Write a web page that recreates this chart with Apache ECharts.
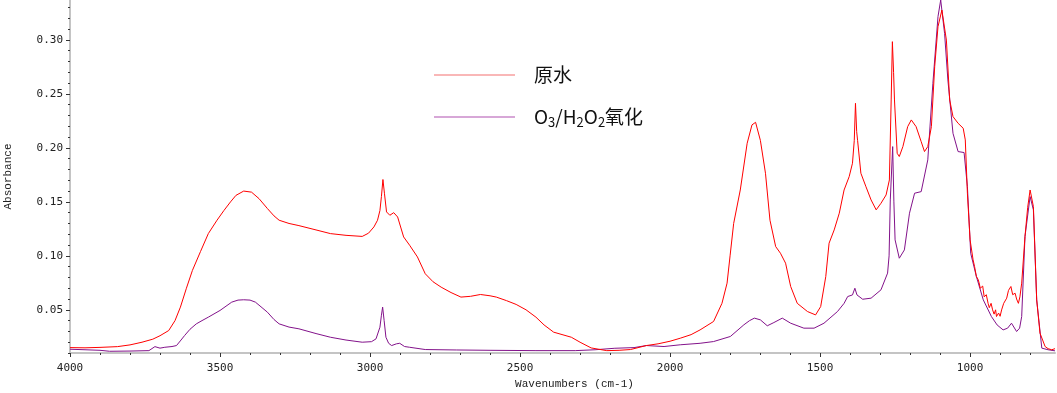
<!DOCTYPE html>
<html>
<head>
<meta charset="utf-8">
<script src="https://cdn.jsdelivr.net/npm/echarts@6/dist/echarts.min.js"></script>
<style>html,body{margin:0;padding:0;background:#fff}#c{width:1057px;height:393px}</style>
</head>
<body>
<div id="c"></div>
<script>
// Wavenumber (cm-1) and absorbance
const rawWn = [4000,3950,3900,3842,3800,3760,3724,3700,3671,3650,3632,3612,3592,3565,3539,3510,3487,3465,3447,3421,3395,3370,3342,3320,3303,3270,3237,3180,3132,3080,3026,3005,2987,2975,2967,2962,2957,2952,2945,2934,2921,2908,2888,2868,2842,2816,2790,2763,2730,2697,2665,2632,2600,2579,2545,2513,2480,2447,2420,2388,2329,2300,2263,2211,2170,2132,2079,2040,2000,1966,1930,1900,1855,1827,1810,1800,1788,1766,1743,1727,1715,1699,1682,1667,1648,1632,1615,1598,1576,1542,1515,1498,1481,1470,1453,1436,1420,1403,1392,1386,1382,1378,1375,1364,1347,1330,1313,1297,1280,1269,1263,1259,1255,1252,1243,1236,1224,1208,1196,1180,1163,1152,1141,1129,1118,1107,1094,1079,1068,1057,1040,1023,1016,1009,1000,990,985,979,973,970,966,962,958,953,946,940,936,930,925,920,915,912,905,900,895,888,878,872,864,858,850,845,839,834,828,817,808,800,789,778,767,750,740,728,717];
const rawAbs = [0.0150,0.0148,0.0152,0.0159,0.0175,0.0200,0.0228,0.0260,0.0308,0.040,0.0525,0.070,0.0865,0.104,0.1206,0.133,0.142,0.150,0.156,0.160,0.159,0.153,0.1438,0.137,0.133,0.130,0.128,0.124,0.1206,0.119,0.118,0.121,0.1268,0.133,0.142,0.155,0.1707,0.158,0.1407,0.1376,0.140,0.136,0.1175,0.1098,0.099,0.0834,0.076,0.071,0.066,0.0618,0.0625,0.0642,0.063,0.0618,0.0585,0.055,0.050,0.0432,0.036,0.0293,0.0246,0.020,0.0147,0.0122,0.0125,0.0132,0.0169,0.0185,0.0209,0.0237,0.027,0.0314,0.0392,0.056,0.0747,0.100,0.130,0.161,0.2043,0.2213,0.2237,0.207,0.1765,0.133,0.1086,0.1024,0.0932,0.0716,0.056,0.0484,0.0453,0.053,0.0808,0.1117,0.124,0.1395,0.161,0.1734,0.1858,0.207,0.2413,0.215,0.207,0.1765,0.164,0.1518,0.1426,0.1487,0.1564,0.1703,0.2444,0.2984,0.270,0.2444,0.195,0.192,0.2012,0.2197,0.2259,0.2197,0.2058,0.1966,0.2012,0.2197,0.2753,0.3123,0.3277,0.2999,0.2444,0.229,0.2228,0.2182,0.2074,0.158,0.1148,0.0963,0.090,0.0808,0.078,0.075,0.070,0.0685,0.072,0.062,0.064,0.056,0.052,0.056,0.050,0.046,0.050,0.0438,0.047,0.044,0.0499,0.056,0.0608,0.068,0.0716,0.064,0.0654,0.060,0.056,0.062,0.0747,0.1179,0.145,0.161,0.1456,0.0592,0.0284,0.016,0.014,0.013,0.014];

const oxWn = [4000,3950,3900,3868,3800,3737,3717,3700,3684,3660,3645,3630,3618,3600,3579,3560,3539,3500,3461,3440,3421,3400,3382,3360,3342,3320,3303,3270,3237,3180,3132,3080,3026,2995,2980,2967,2962,2958,2953,2947,2938,2928,2912,2901,2885,2868,2816,2711,2600,2447,2316,2250,2184,2120,2079,2020,1966,1900,1855,1799,1754,1735,1719,1699,1676,1654,1626,1598,1554,1520,1487,1442,1420,1408,1392,1384,1377,1358,1330,1297,1275,1270,1266,1258,1254,1250,1236,1219,1202,1185,1163,1141,1124,1107,1098,1085,1074,1057,1040,1020,1009,998,979,956,929,910,890,875,862,845,835,828,817,800,789,778,761,740,717];
const oxAbs = [0.0135,0.0130,0.0125,0.0116,0.0118,0.0122,0.0159,0.0145,0.0153,0.0160,0.0169,0.022,0.0262,0.032,0.037,0.040,0.0432,0.0494,0.0571,0.059,0.0593,0.059,0.0571,0.052,0.0478,0.041,0.037,0.034,0.0324,0.028,0.0246,0.022,0.020,0.0205,0.0231,0.0339,0.045,0.0525,0.040,0.0246,0.019,0.0169,0.0185,0.019,0.016,0.0153,0.0132,0.0128,0.0125,0.0122,0.0122,0.0130,0.0144,0.0150,0.0169,0.0160,0.0176,0.019,0.0206,0.0253,0.0361,0.040,0.0423,0.0407,0.0352,0.0382,0.0423,0.0376,0.033,0.033,0.0376,0.0484,0.056,0.0623,0.0638,0.070,0.0638,0.0598,0.0608,0.0685,0.084,0.100,0.1518,0.2012,0.150,0.1148,0.0978,0.1055,0.1395,0.158,0.1595,0.1889,0.2598,0.3216,0.337,0.306,0.2629,0.2135,0.1966,0.1957,0.1642,0.1024,0.0808,0.0592,0.0438,0.036,0.0314,0.033,0.0376,0.0299,0.033,0.0438,0.1179,0.1549,0.1426,0.0592,0.0145,0.013,0.012];

const xMajorTicks = [1000,1500,2000,2500,3000,3500,4000];
const xMinorTicks = [800,900,1000,1100,1200,1300,1400,1500,1600,1700,1800,1900,2000,2100,2200,2300,2400,2500,2600,2700,2800,2900,3000,3100,3200,3300,3400,3500,3600,3700,3800,3900,4000];
const yMajorTicks = [0.05,0.10,0.15,0.20,0.25,0.30];
const yMinorTicks = [0.01,0.02,0.03,0.04,0.05,0.06,0.07,0.08,0.09,0.10,0.11,0.12,0.13,0.14,0.15,0.16,0.17,0.18,0.19,0.20,0.21,0.22,0.23,0.24,0.25,0.26,0.27,0.28,0.29,0.30,0.31,0.32,0.33];

const seriesNames = ['原水','O3/H2O2氧化'];

const pair = (xs, ys) => xs.map((x, i) => [x, ys[i]]);

const chart = echarts.init(document.getElementById('c'), null, {renderer: 'canvas'});
const tickFont = {fontFamily: 'DejaVu Sans Mono', fontSize: 11, color: '#222'};
const X_MIN = 717, X_MAX = 4000, Y_MIN = 0.01, Y_MAX = 0.337;
chart.setOption({
  animation: false,
  backgroundColor: '#fff',
  grid: {left: 70, right: 2, top: 0, bottom: 40, containLabel: false, outerBoundsMode: 'none'},
  legend: {
    orient: 'vertical', left: 434, top: 63, padding: 0,
    itemWidth: 81, itemHeight: 1, itemGap: 18, icon: 'rect',
    data: [
      {name: seriesNames[0], itemStyle: {color: '#f47070'}},
      {name: seriesNames[1], itemStyle: {color: '#b050b0'}}
    ],
    formatter: function (n) {
      if (n === seriesNames[0]) return '{g|}{t|原水}';
      return '{g|}{t|O}{s|3}{t|/H}{s|2}{t|O}{s|2}{t|氧化}';
    },
    textStyle: {
      fontFamily: 'Noto Sans CJK SC', fontSize: 19, color: '#111', lineHeight: 24,
      rich: {
        g: {width: 14},
        t: {fontFamily: 'Noto Sans CJK SC', fontSize: 19, color: '#111', lineHeight: 24},
        s: {fontFamily: 'Noto Sans CJK SC', fontSize: 13, color: '#111', lineHeight: 24, verticalAlign: 'bottom', padding: [8, 0, 0, 0]}
      }
    }
  },
  xAxis: [
    {
      type: 'value', inverse: true, min: X_MIN, max: X_MAX, position: 'bottom',
      name: 'Wavenumbers (cm-1)', nameLocation: 'middle', nameGap: 24,
      nameTextStyle: {fontFamily: 'Liberation Mono', fontSize: 11, color: '#222', padding: [0, 0, 0, 24]},
      axisLine: {show: true, lineStyle: {color: '#c4c4c4', width: 2}},
      axisTick: {show: true, length: 4, inside: false, lineStyle: {color: '#333'}, customValues: xMajorTicks},
      axisLabel: Object.assign({margin: 10, customValues: xMajorTicks, formatter: v => String(v)}, tickFont),
      splitLine: {show: false}
    },
    {
      type: 'value', inverse: true, min: X_MIN, max: X_MAX, position: 'bottom',
      axisLine: {show: false},
      axisTick: {show: true, length: 2, lineStyle: {color: '#333'}, customValues: xMinorTicks},
      axisLabel: {show: false},
      splitLine: {show: false}
    }
  ],
  yAxis: [
    {
      type: 'value', min: Y_MIN, max: Y_MAX, position: 'left',
      name: 'Absorbance', nameLocation: 'middle', nameGap: 56,
      nameTextStyle: {fontFamily: 'Liberation Mono', fontSize: 11, color: '#222'},
      axisLine: {show: true, lineStyle: {color: '#c4c4c4', width: 2}},
      axisTick: {show: true, length: 4, lineStyle: {color: '#333'}, customValues: yMajorTicks},
      axisLabel: Object.assign({margin: 7, customValues: yMajorTicks, formatter: v => v.toFixed(2)}, tickFont),
      splitLine: {show: false}
    },
    {
      type: 'value', min: Y_MIN, max: Y_MAX, position: 'left',
      axisLine: {show: false},
      axisTick: {show: true, length: 2, lineStyle: {color: '#333'}, customValues: yMinorTicks},
      axisLabel: {show: false},
      splitLine: {show: false}
    }
  ],
  series: [
    {
      name: seriesNames[1], type: 'line', xAxisIndex: 0, yAxisIndex: 0,
      data: pair(oxWn, oxAbs), showSymbol: false, symbol: 'none',
      lineStyle: {color: '#82128a', width: 1}, itemStyle: {color: '#82128a'}, z: 2
    },
    {
      name: seriesNames[0], type: 'line', xAxisIndex: 0, yAxisIndex: 0,
      data: pair(rawWn, rawAbs), showSymbol: false, symbol: 'none',
      lineStyle: {color: '#ff0000', width: 1}, itemStyle: {color: '#ff0000'}, z: 3
    }
  ]
});
</script>
</body>
</html>
